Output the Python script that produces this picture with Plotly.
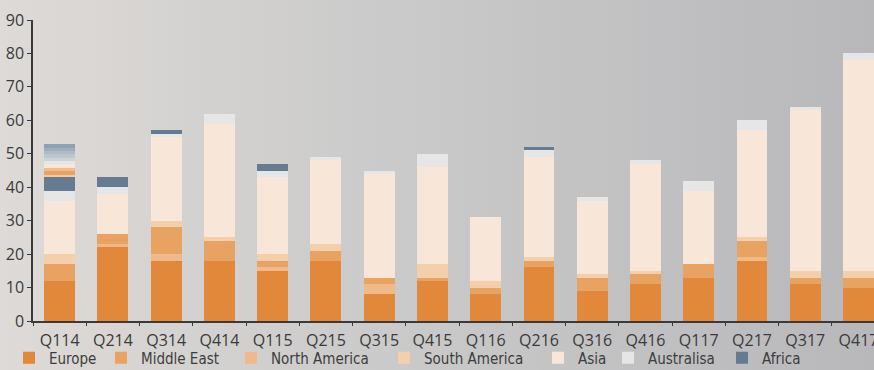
import base64

import plotly.graph_objects as go

# ---- data -------------------------------------------------------------
quarters = ["Q114", "Q214", "Q314", "Q414", "Q115", "Q215", "Q315", "Q415",
            "Q116", "Q216", "Q316", "Q416", "Q117", "Q217", "Q317", "Q417"]

europe = [12, 22, 18, 18, 15, 18, 8, 12, 8, 16, 9, 11, 13, 18, 11, 10]
north_america = [0, 1, 2, 0, 1, 0, 3, 0, 0, 0, 0, 0, 0, 1, 0, 0]
middle_east = [5, 3, 8, 6, 2, 3, 2, 1, 2, 2, 4, 3, 4, 5, 2, 3]
south_america = [3, 0, 2, 1, 2, 2, 0, 4, 2, 1, 1, 1, 0, 1, 2, 2]
asia = [16, 12, 25, 34, 23, 25, 31, 29, 19, 30, 22, 32, 22, 32, 48, 63]
australasia = [3, 2, 1, 3, 2, 1, 1, 4, 0, 2, 1, 1, 3, 3, 1, 2]
africa = [4, 3, 1, 0, 2, 0, 0, 0, 0, 1, 0, 0, 0, 0, 0, 0]

# the Q114 column in the source carries a smeared band on top of its stack
q114_extra = [0.6, 1.2, 1.0, 1.0, 1.0, 1.0, 1.0, 1.0, 1.0, 1.1]

# ---- style ------------------------------------------------------------
COLORS = {
    "Europe": "#e1883a",
    "Middle East": "#e8a262",
    "North America": "#f0b98a",
    "South America": "#f4cfac",
    "Asia": "#f8e7d8",
    "Australisa": "#e6e6e6",
    "Africa": "#647b92",
}
EXTRA_COLORS = ["#f2c9a2", "#e8a262", "#f1bb8b", "#f8e6d6", "#e6e6e6",
                "#cdd4d9", "#bcc6cf", "#aebac5", "#a0adb9", "#8fa0b0"]

# stack order (bottom to top) and where each legend entry sits (px from left)
series = [
    ("Europe", europe, 35),
    ("North America", north_america, 257),
    ("Middle East", middle_east, 127),
    ("South America", south_america, 410),
    ("Asia", asia, 564),
    ("Australisa", australasia, 634),
    ("Africa", africa, 748),
]

W, H = 874, 370
L, R, T, B = 33, 0, 20, 49

fig = go.Figure()
legends = {}
for i, (name, vals, lx) in enumerate(series):
    key = "legend" if i == 0 else f"legend{i + 1}"
    fig.add_trace(go.Bar(x=quarters, y=vals, name=name, marker_color=COLORS[name],
                         marker_line_width=0, legend=key))
    legends[key] = dict(
        x=(lx - 26) / W, xref="container", xanchor="left",
        y=(H - 358) / H, yref="container", yanchor="middle",
        bgcolor="rgba(0,0,0,0)", borderwidth=0,
        font=dict(family="DejaVu Sans Condensed, Liberation Sans Narrow, sans-serif",
                  size=15, color="#3d3d3d"),
    )

for v, c in zip(q114_extra, EXTRA_COLORS):
    fig.add_trace(go.Bar(x=quarters[:1], y=[v], marker_color=c,
                         marker_line_width=0, showlegend=False, hoverinfo="skip"))

svg = (
    f'<svg xmlns="http://www.w3.org/2000/svg" width="{W}" height="{H}">'
    '<defs><linearGradient id="g" x1="0" y1="0" x2="1" y2="0">'
    '<stop offset="0" stop-color="#dedad7"/>'
    '<stop offset="0.45" stop-color="#cacaca"/>'
    '<stop offset="1" stop-color="#b8b8bb"/>'
    '</linearGradient></defs>'
    f'<rect width="{W}" height="{H}" fill="url(#g)"/></svg>'
)
bg_src = "data:image/svg+xml;base64," + base64.b64encode(svg.encode()).decode()

pw, ph = W - L - R, H - T - B
fig.update_layout(
    width=W, height=H,
    margin=dict(l=L, r=R, t=T, b=B, pad=0, autoexpand=False),
    barmode="stack",
    bargap=0.42,
    paper_bgcolor="#c9c8c8",
    plot_bgcolor="rgba(0,0,0,0)",
    font=dict(family="Open Sans, sans-serif", size=16, color="#3a3a3a"),
    showlegend=True,
    images=[dict(source=bg_src, xref="paper", yref="paper",
                 x=-L / pw, y=1 + T / ph, sizex=W / pw, sizey=H / ph,
                 xanchor="left", yanchor="top", sizing="stretch", layer="below")],
    xaxis=dict(range=[-0.5, 15.29], showgrid=False, zeroline=False,
               showline=True, linecolor="#3a3a3a", linewidth=1.5,
               ticks="outside", tickson="boundaries", ticklen=3,
               ticklabelstandoff=4,
               tickcolor="#3a3a3a", tickfont=dict(size=16)),
    yaxis=dict(range=[0, 90], dtick=10, showgrid=False, zeroline=False,
               showline=True, linecolor="#3a3a3a", linewidth=1.5,
               ticks="outside", ticklen=4, tickcolor="#3a3a3a",
               tickfont=dict(size=16)),
    **legends,
)

fig.write_html("out.html", config={"displayModeBar": False},
               post_script="document.body.style.margin = '0';")
